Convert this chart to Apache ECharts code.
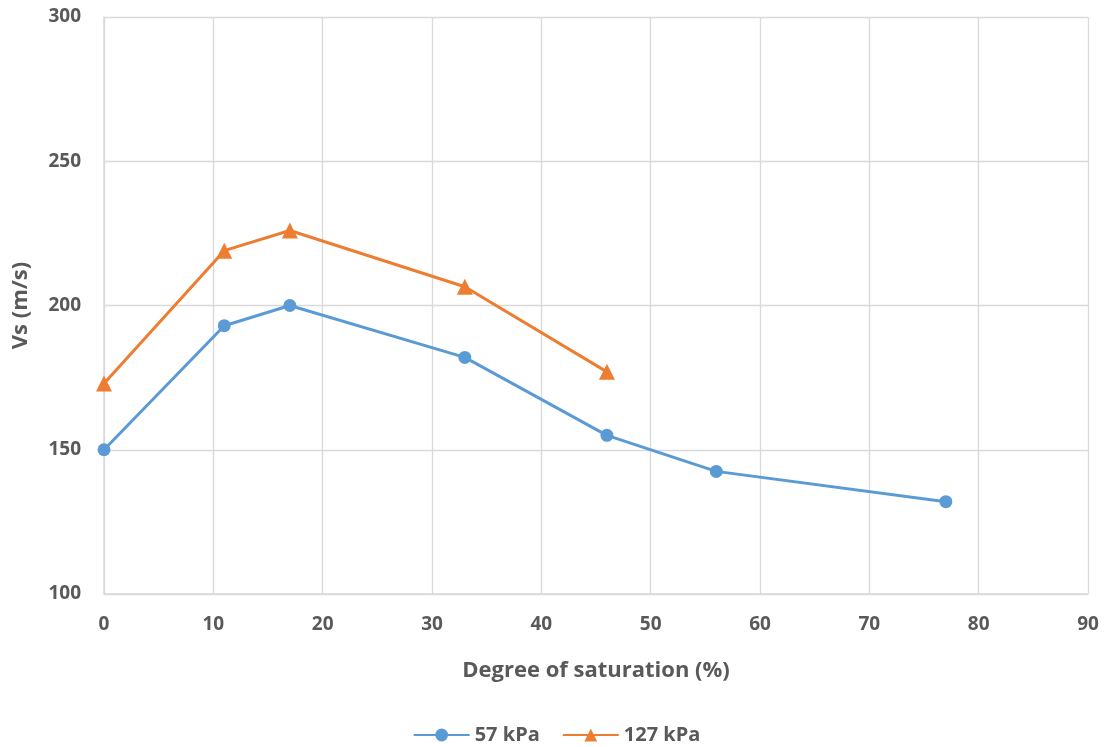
<!DOCTYPE html>
<html><head><meta charset="utf-8">
<script src="https://cdn.jsdelivr.net/npm/echarts@6/dist/echarts.min.js"></script>
<style>html,body{margin:0;padding:0;background:#fff}#c{width:1113px;height:747px}</style>
</head><body><div id="c"></div>
<script>
const saturation57 = [0, 11, 17, 33, 46, 56, 77];
const vs57 = [150, 193, 200, 182, 155, 142.5, 132];
const saturation127 = [0, 11, 17, 33, 46];
const vs127 = [173, 219, 226, 206.5, 177];
const seriesNames = ['57 kPa', '127 kPa'];

const font = 'Open Sans, Liberation Sans, sans-serif';
const grey = '#595959';
const chart = echarts.init(document.getElementById('c'));
chart.setOption({
  animation: false,
  grid: {left: 104, right: 25, top: 17, bottom: 153},
  legend: {
    bottom: -3, left: 'center', itemWidth: 56, itemHeight: 16, itemGap: 22,
    textStyle: {fontFamily: font, fontWeight: 'bold', fontSize: 20, color: grey},
    data: seriesNames
  },
  xAxis: {
    type: 'value', min: 0, max: 90, interval: 10,
    name: 'Degree of saturation (%)', nameLocation: 'middle', nameGap: 66,
    nameTextStyle: {fontFamily: font, fontWeight: 'bold', fontSize: 22, color: grey},
    axisLine: {lineStyle: {color: '#d9d9d9', width: 1.5}},
    axisTick: {show: false},
    splitLine: {lineStyle: {color: '#d9d9d9', width: 1.3}},
    axisLabel: {fontFamily: font, fontWeight: 'bold', fontSize: 19, color: grey, margin: 21}
  },
  yAxis: {
    type: 'value', min: 100, max: 300, interval: 50,
    name: 'Vs (m/s)', nameLocation: 'middle', nameGap: 72, nameRotate: 90,
    nameTextStyle: {fontFamily: font, fontWeight: 'bold', fontSize: 22, color: grey},
    axisLine: {show: true, lineStyle: {color: '#d9d9d9', width: 1.5}},
    axisTick: {show: false},
    splitLine: {lineStyle: {color: '#d9d9d9', width: 1.3}},
    axisLabel: {fontFamily: font, fontWeight: 'bold', fontSize: 19, color: grey, margin: 23}
  },
  series: [
    {name: seriesNames[0], type: 'line', data: saturation57.map((x, i) => [x, vs57[i]]),
     symbol: 'circle', symbolSize: 13,
     lineStyle: {color: '#5B9BD5', width: 3}, itemStyle: {color: '#5B9BD5'}},
    {name: seriesNames[1], type: 'line', data: saturation127.map((x, i) => [x, vs127[i]]),
     symbol: 'triangle', symbolSize: 16,
     lineStyle: {color: '#ED7D31', width: 3}, itemStyle: {color: '#ED7D31'}}
  ]
});
</script></body></html>
